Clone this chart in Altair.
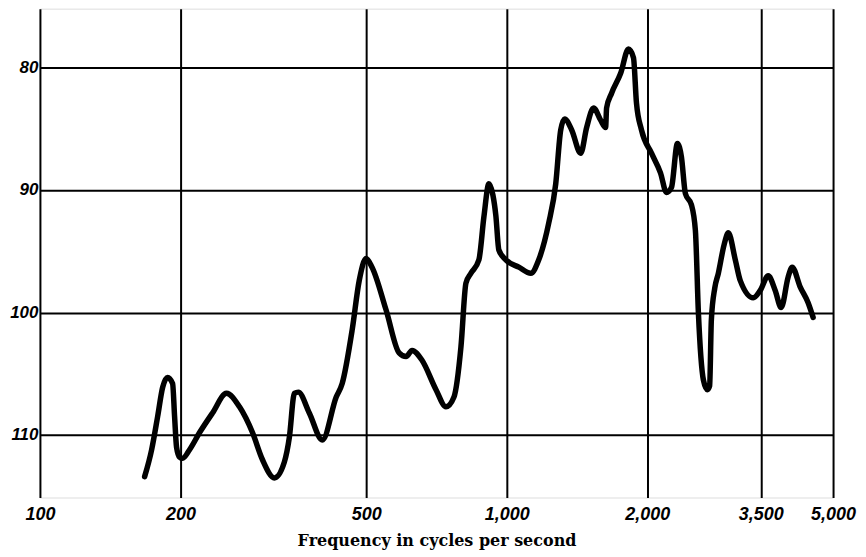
import altair as alt
import pandas as pd

# Curve: frequency (Hz) and level
freq = [167.6, 173.5, 178.7, 183.2, 187.7, 192.4, 194.3, 196.2, 199.1, 202.1,
        209.2, 219.8, 234.3, 251.0, 267.6, 285.3, 299.6, 317.9, 333.9, 342.2,
        350.8, 357.7, 377.6, 402.6, 431.2, 444.1, 466.6, 483.0, 499.6, 514.5,
        551.5, 588.0, 608.6, 626.8, 658.4, 705.4, 741.0, 770.8, 797.8, 817.6,
        838.0, 871.7, 893.4, 915.6, 933.8, 947.7, 961.8, 995.5, 1061.3, 1125.8,
        1171.0, 1230.1, 1273.2, 1304.9, 1330.8, 1377.5, 1439.9, 1483.0, 1535.0, 1588.8,
        1628.4, 1636.4, 1677.2, 1752.9, 1823.0, 1868.3, 1896.1, 1943.3, 2042.0, 2134.5,
        2198.4, 2253.1, 2320.6, 2366.7, 2413.7, 2486.1, 2535.5, 2573.3, 2637.4, 2690.0,
        2720.0, 2743.3, 2790.0, 2839.4, 2920.0, 2982.6, 3087.1, 3164.0, 3373.0, 3491.2,
        3631.3, 3758.6, 3871.2, 4006.9, 4086.5, 4250.6, 4421.4, 4531.5]
level = [113.4, 111.2, 108.5, 106.1, 105.3, 105.8, 108.5, 111.0, 111.8, 111.9,
         111.2, 109.8, 108.2, 106.6, 107.7, 109.8, 112.0, 113.5, 112.2, 110.2,
         106.6, 106.5, 108.2, 110.4, 106.9, 105.8, 101.4, 97.4, 95.6, 96.3,
         99.8, 103.3, 103.6, 103.1, 103.9, 106.3, 107.7, 106.9, 102.8, 97.6,
         96.8, 95.7, 92.2, 89.5, 90.4, 92.1, 94.9, 95.7, 96.3, 96.8,
         95.7, 92.7, 89.5, 85.1, 84.2, 85.1, 87.0, 84.9, 83.3, 84.3,
         84.9, 83.3, 82.1, 80.5, 78.5, 79.2, 82.9, 85.1, 87.0, 88.6,
         90.2, 89.8, 86.2, 87.3, 90.3, 91.2, 93.3, 100.0, 105.5, 106.3,
         106.0, 100.6, 98.0, 96.8, 94.5, 93.5, 95.7, 97.4, 98.8, 98.2,
         97.0, 98.2, 99.6, 97.1, 96.3, 97.9, 99.2, 100.4]

x_ticks = [100, 200, 500, 1000, 2000, 3500, 5000]
y_ticks = [80, 90, 100, 110]

df = pd.DataFrame({"freq": freq, "level": level, "order": list(range(len(freq)))})

chart = alt.Chart(df).mark_line(
    interpolate="monotone", color="black", strokeWidth=5.5,
    strokeCap="round", strokeJoin="round"
).encode(
    x=alt.X("freq:Q",
            scale=alt.Scale(type="log", domain=[100, 5000], nice=False),
            axis=alt.Axis(values=x_ticks, format=",", labelFlush=False, labelOverlap=False,
                          grid=True, gridColor="black", gridWidth=2, gridOpacity=1,
                          ticks=False, domain=False, labelPadding=8,
                          labelFont="Liberation Sans", labelFontSize=18,
                          labelFontWeight="bold", labelFontStyle="italic", labelColor="black",
                          title="Frequency in cycles per second",
                          titleFont="DejaVu Serif", titleFontSize=16, titleFontWeight="bold",
                          titleColor="black", titlePadding=9)),
    y=alt.Y("level:Q",
            scale=alt.Scale(domain=[75.2, 115.1], reverse=True, nice=False, zero=False),
            axis=alt.Axis(values=y_ticks, grid=True, gridColor="black", gridWidth=2,
                          gridOpacity=1, ticks=False, domain=False, labelPadding=2,
                          labelFont="Liberation Sans", labelFontSize=17,
                          labelFontWeight="bold", labelFontStyle="italic", labelColor="black",
                          title=None)),
    order="order:Q"
).properties(
    width=795, height=490,
    autosize=alt.AutoSizeParams(type="none"),
    padding={"left": 32, "top": 0, "right": 25, "bottom": 60}
).configure_view(
    stroke="black", strokeWidth=3
).configure(background="white")

chart.save("out.html", embed_options={"renderer": "svg", "actions": False})
